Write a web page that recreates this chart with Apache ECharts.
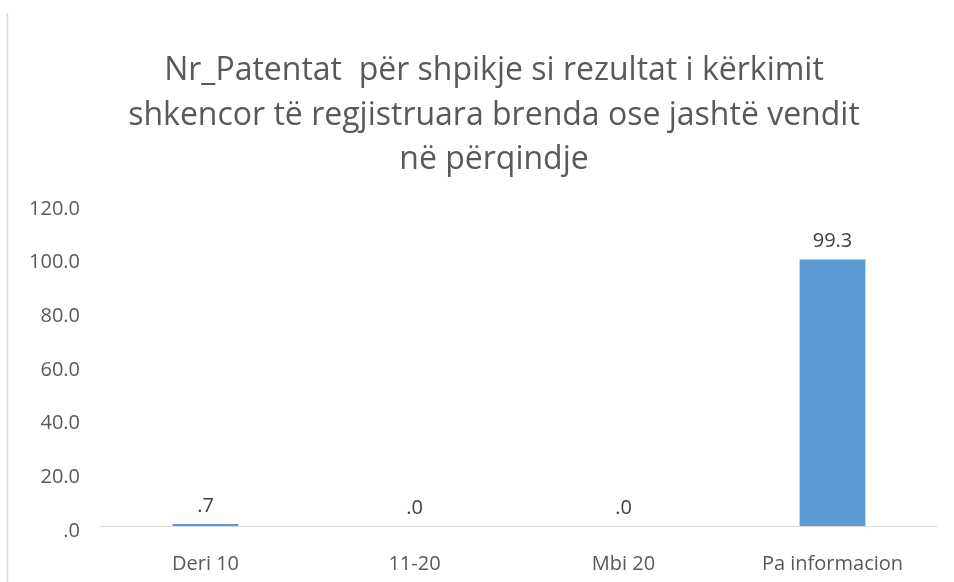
<!DOCTYPE html>
<html>
<head>
<meta charset="utf-8">
<script src="https://cdn.jsdelivr.net/npm/echarts@6/dist/echarts.min.js"></script>
<style>
  html, body { margin: 0; padding: 0; background: #fff; }
  #chart { width: 954px; height: 582px; }
</style>
</head>
<body>
<div id="chart"></div>
<script>
// Patent counts by band, as a share of respondents (%)
const categories = ['Deri 10', '11-20', 'Mbi 20', 'Pa informacion'];
const shares = [0.7, 0.0, 0.0, 99.3];
const yTicks = { min: 0, max: 120, step: 20 };
const titleLines = [
  'Nr_Patentat  për shpikje si rezultat i kërkimit',
  'shkencor të regjistruara brenda ose jashtë vendit',
  'në përqindje'
];

// One decimal, with the leading zero dropped (0.7 -> ".7", 0 -> ".0")
function fmt(v) {
  const s = Number(v).toFixed(1);
  return s.replace(/^0\./, '.').replace(/^-0\./, '-.');
}

const FONT = '"Open Sans", "Noto Sans", sans-serif';
const chart = echarts.init(document.getElementById('chart'));
chart.setOption({
  animation: false,
  backgroundColor: '#ffffff',
  title: {
    text: titleLines.join('\n'),
    left: 489,
    textAlign: 'center',
    top: 44,
    textStyle: {
      fontFamily: FONT,
      fontSize: 32,
      fontWeight: 'normal',
      color: '#595959',
      lineHeight: 44.5
    }
  },
  graphic: [{
    type: 'line',
    shape: { x1: 7.5, y1: 13, x2: 7.5, y2: 582 },
    style: { stroke: '#d9d9d9', lineWidth: 1.5 }
  }],
  grid: { left: 101, right: 17, top: 204, bottom: 56, containLabel: false },
  xAxis: {
    type: 'category',
    data: categories,
    axisLine: { lineStyle: { color: '#d9d9d9', width: 1 } },
    axisTick: { show: false },
    axisLabel: {
      fontFamily: FONT,
      fontSize: 20,
      color: '#595959',
      margin: 28
    }
  },
  yAxis: {
    type: 'value',
    min: yTicks.min,
    max: yTicks.max,
    interval: yTicks.step,
    splitLine: { show: false },
    axisLine: { show: false },
    axisTick: { show: false },
    axisLabel: {
      fontFamily: FONT,
      fontSize: 20,
      color: '#595959',
      margin: 21,
      verticalAlign: 'top',
      lineHeight: 10,
      formatter: fmt
    }
  },
  series: [{
    type: 'bar',
    data: shares,
    barWidth: '31.5%',
    itemStyle: { color: '#5b9bd5' },
    label: {
      show: true,
      position: 'top',
      distance: 8,
      fontFamily: FONT,
      fontSize: 20,
      color: '#404040',
      formatter: p => fmt(p.value)
    }
  }]
});
</script>
</body>
</html>
